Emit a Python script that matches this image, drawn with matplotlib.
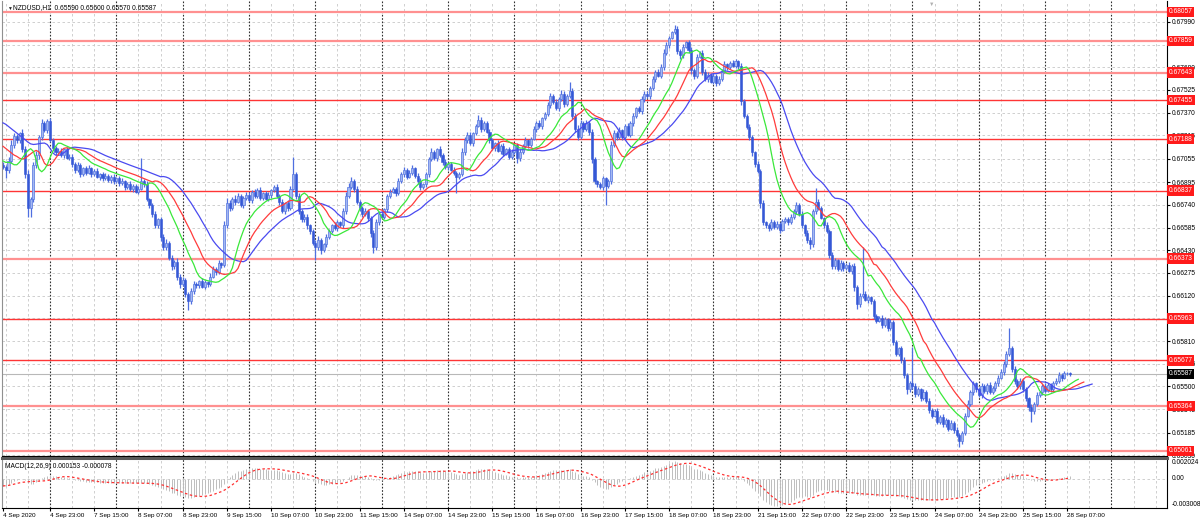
"""
NZDUSD H1 chart (MT4 look): candles, Alligator, S/R levels, MACD panel.
Prices are stored in points above 0.65000 (1 point = 0.00001).
"""
import matplotlib.pyplot as plt
import numpy as np
import pandas as pd
from matplotlib.transforms import blended_transform_factory
from matplotlib.lines import Line2D

plt.rcParams['font.family'] = ['Liberation Sans', 'DejaVu Sans']

# ── Data ──────────────────────────────────────────────────────────────────────
BASE = 0.65
first_open = 2010
close_pts = [
    2000, 1980, 2040, 2150, 2210, 2180, 2230, 2120, 1950, 1720, 1780, 2010, 2080, 2200, 2300, 2250, 2310, 2180, 2130, 2100,
    2110, 2080, 2120, 2060, 2070, 2020, 1980, 2010, 1950, 1990, 1960, 1990, 1950, 1970, 1930, 1950, 1920, 1940, 1910, 1930,
    1900, 1920, 1890, 1900, 1860, 1880, 1850, 1870, 1830, 1850, 1900, 1880, 1780, 1740, 1680, 1600, 1640, 1520, 1450, 1480,
    1380, 1320, 1350, 1250, 1200, 1230, 1130, 1080, 1150, 1200, 1190, 1220, 1180, 1210, 1200, 1250, 1300, 1280, 1340, 1330,
    1600, 1750, 1720, 1780, 1760, 1800, 1740, 1790, 1810, 1770, 1830, 1800, 1840, 1790, 1820, 1780, 1810, 1840, 1860, 1800,
    1760, 1700, 1750, 1720, 1850, 1950, 1800, 1700, 1640, 1660, 1600, 1560, 1480, 1450, 1500, 1430, 1470, 1520, 1560, 1600,
    1580, 1620, 1600, 1700, 1800, 1860, 1900, 1850, 1760, 1720, 1680, 1700, 1650, 1550, 1450, 1620, 1680, 1660, 1710, 1800,
    1830, 1850, 1820, 1900, 1950, 1980, 1930, 1960, 1990, 1940, 1900, 1860, 1880, 1950, 2050, 2100, 2060, 2120, 2080, 2030,
    2000, 2020, 1980, 1960, 1930, 1950, 2100, 2180, 2220, 2160, 2230, 2280, 2320, 2260, 2300, 2240, 2180, 2130, 2160, 2110,
    2140, 2090, 2120, 2070, 2100, 2150, 2060, 2100, 2140, 2180, 2150, 2190, 2260, 2300, 2280, 2330, 2360, 2420, 2480, 2440,
    2400, 2460, 2500, 2430, 2480, 2520, 2350, 2260, 2200, 2300, 2260, 2300, 2240, 2050, 1900, 1880, 1860, 1920, 1870, 1900,
    2150, 2230, 2200, 2250, 2200, 2280, 2220, 2300, 2350, 2400, 2380, 2460, 2500, 2480, 2540, 2600, 2650, 2620, 2680, 2780,
    2830, 2880, 2920, 2940, 2790, 2760, 2820, 2850, 2800, 2660, 2620, 2750, 2780, 2650, 2600, 2630, 2580, 2620, 2570, 2600,
    2650, 2700, 2680, 2710, 2690, 2720, 2690, 2450, 2350, 2270, 2200, 2100, 2020, 1970, 1750, 1620, 1600, 1580, 1620, 1590,
    1610, 1570, 1630, 1640, 1620, 1660, 1700, 1740, 1680, 1600, 1550, 1500, 1470, 1700, 1760, 1720, 1650, 1600, 1560, 1400,
    1320, 1360, 1300, 1340, 1310, 1330, 1290, 1320, 1180, 1060, 1120, 1130, 1090, 1110, 1080, 980, 950, 970, 920, 960,
    900, 940, 800, 720, 760, 680, 580, 480, 520, 500, 450, 480, 420, 460, 400, 340, 300, 330, 260, 290,
    240, 270, 210, 250, 200, 170, 130, 180, 300, 380, 460, 520, 480, 440, 500, 470, 510, 460, 490, 520,
    560, 600, 650, 720, 760, 620, 540, 500, 540, 480, 420, 360, 330, 380, 440, 460, 500, 470, 510, 480,
    520, 540, 580, 560, 590, 590, 587,
]
upper_wick = [
    20, 15, 25, 30, 20, 15, 10, 25, 20, 30, 15, 20, 25, 20, 26, 15, 16, 20, 15, 10,
    15, 20, 10, 15, 20, 15, 10, 20, 15, 10, 15, 20, 10, 15, 20, 10, 15, 20, 10, 15,
    20, 10, 15, 20, 10, 15, 20, 10, 15, 20, 160, 15, 20, 10, 15, 20, 10, 15, 20, 25,
    15, 20, 10, 25, 15, 20, 10, 15, 25, 20, 15, 10, 20, 15, 10, 25, 20, 15, 20, 10,
    30, 40, 20, 15, 25, 20, 15, 10, 20, 15, 10, 20, 15, 20, 10, 15, 20, 10, 15, 20,
    15, 20, 10, 25, 20, 117, 15, 20, 10, 15, 20, 10, 15, 20, 25, 15, 10, 20, 15, 10,
    20, 15, 10, 20, 25, 30, 30, 15, 20, 10, 15, 20, 10, 15, 20, 25, 15, 20, 10, 15,
    20, 15, 10, 20, 15, 20, 10, 15, 20, 10, 15, 20, 10, 15, 20, 25, 15, 10, 20, 15,
    20, 10, 15, 20, 10, 15, 25, 20, 15, 20, 10, 15, 33, 20, 15, 10, 20, 15, 10, 20,
    15, 20, 10, 15, 20, 15, 10, 20, 15, 20, 10, 15, 20, 15, 20, 10, 15, 20, 25, 15,
    20, 15, 25, 20, 15, 59, 20, 15, 25, 20, 15, 20, 10, 15, 20, 10, 15, 20, 10, 15,
    25, 20, 15, 20, 10, 15, 20, 15, 20, 10, 15, 20, 15, 20, 15, 20, 10, 15, 20, 25,
    20, 15, 10, 28, 20, 15, 20, 10, 15, 20, 15, 20, 10, 15, 20, 15, 10, 20, 15, 20,
    15, 20, 10, 15, 20, 15, 10, 20, 15, 10, 20, 15, 10, 20, 15, 20, 10, 15, 20, 15,
    20, 15, 10, 15, 20, 15, 10, 20, 15, 20, 10, 15, 20, 15, 95, 20, 15, 10, 20, 15,
    20, 15, 10, 20, 15, 10, 20, 15, 20, 10, 15, 322, 20, 15, 10, 20, 15, 10, 20, 15,
    10, 20, 15, 20, 10, 15, 20, 10, 15, 249, 20, 15, 10, 20, 15, 20, 10, 15, 20, 15,
    20, 15, 10, 20, 15, 20, 10, 15, 20, 25, 15, 20, 10, 15, 20, 15, 10, 20, 15, 20,
    15, 20, 25, 20, 139, 15, 20, 10, 15, 20, 15, 10, 20, 15, 20, 10, 15, 20, 15, 10,
    20, 15, 20, 10, 15, 10, 10,
]
lower_wick = [
    15, 60, 20, 15, 25, 20, 15, 20, 25, 63, 63, 20, 15, 25, 20, 15, 20, 10, 15, 20,
    10, 15, 20, 10, 15, 20, 25, 15, 20, 10, 15, 10, 20, 15, 10, 20, 15, 10, 15, 20,
    15, 10, 20, 15, 20, 10, 15, 20, 10, 15, 10, 20, 15, 20, 25, 15, 20, 25, 20, 15,
    20, 25, 15, 20, 25, 15, 20, 58, 15, 20, 15, 20, 10, 15, 20, 15, 10, 20, 15, 20,
    15, 20, 25, 15, 20, 10, 15, 20, 15, 10, 20, 15, 10, 15, 20, 10, 15, 20, 10, 15,
    20, 15, 25, 20, 15, 10, 20, 25, 15, 20, 25, 20, 15, 87, 20, 25, 15, 20, 10, 15,
    15, 20, 10, 15, 20, 10, 15, 20, 15, 20, 25, 15, 20, 30, 40, 15, 20, 10, 15, 20,
    15, 10, 20, 15, 10, 20, 15, 10, 15, 20, 15, 20, 10, 15, 20, 10, 15, 20, 10, 15,
    15, 20, 10, 15, 110, 15, 10, 20, 15, 10, 20, 15, 10, 20, 15, 10, 20, 15, 20, 10,
    20, 15, 10, 20, 15, 10, 34, 20, 15, 10, 20, 15, 10, 20, 15, 20, 10, 15, 20, 10,
    15, 20, 10, 20, 15, 10, 25, 20, 15, 10, 20, 15, 20, 25, 20, 15, 10, 20, 131, 15,
    20, 15, 20, 10, 15, 20, 10, 15, 20, 15, 10, 20, 15, 10, 20, 15, 20, 10, 15, 20,
    15, 20, 10, 15, 20, 25, 15, 10, 20, 25, 20, 15, 10, 20, 15, 20, 10, 15, 20, 10,
    15, 10, 20, 15, 10, 15, 20, 25, 20, 15, 20, 25, 20, 15, 30, 20, 15, 20, 10, 15,
    15, 20, 10, 15, 20, 10, 15, 20, 15, 20, 25, 20, 30, 15, 20, 15, 10, 20, 15, 20,
    15, 20, 15, 10, 20, 15, 10, 20, 25, 30, 20, 15, 10, 20, 15, 20, 15, 10, 20, 15,
    20, 15, 20, 15, 10, 20, 25, 30, 20, 15, 20, 15, 20, 10, 15, 20, 15, 10, 20, 15,
    15, 20, 15, 10, 20, 15, 44, 20, 15, 10, 15, 20, 15, 10, 20, 15, 20, 10, 15, 20,
    15, 10, 20, 15, 10, 20, 25, 15, 20, 15, 20, 25, 73, 20, 15, 10, 20, 15, 10, 20,
    15, 10, 15, 20, 10, 15, 17,
]

# Alligator lines where they enter the chart on the left
jaw_lead = [2300, 2290, 2275, 2260, 2245, 2230, 2215, 2200]
teeth_lead = [2140, 2125, 2110, 2095, 2080]
lips_lead = [2040, 2030, 2030]
macd_start = -0.0008

levels = [0.68057, 0.67859, 0.67643, 0.67455, 0.67188, 0.66837,
          0.66373, 0.65963, 0.65677, 0.65364, 0.65061]
levels_light = [True, True, True, False, False, False,
                True, False, False, True, True]
last_price = 0.65587

price_ticks = [0.67990, 0.67835, 0.67680, 0.67525, 0.67370, 0.67215, 0.67055,
               0.66895, 0.66740, 0.66585, 0.66430, 0.66275, 0.66120, 0.65965,
               0.65810, 0.65655, 0.65500, 0.65345, 0.65185, 0.65030]
# tick labels fully covered by a level label in the reference
covered_ticks = [0.67835, 0.65965]

date_labels = ["4 Sep 2020", "4 Sep 23:00", "7 Sep 15:00", "8 Sep 07:00", "8 Sep 23:00",
               "9 Sep 15:00", "10 Sep 07:00", "10 Sep 23:00", "11 Sep 15:00",
               "14 Sep 07:00", "14 Sep 23:00", "15 Sep 15:00", "16 Sep 07:00",
               "16 Sep 23:00", "17 Sep 15:00", "18 Sep 07:00", "18 Sep 23:00",
               "21 Sep 15:00", "22 Sep 07:00", "22 Sep 23:00", "23 Sep 15:00",
               "24 Sep 07:00", "24 Sep 23:00", "25 Sep 15:00", "28 Sep 07:00"]
date_idx = [0] + [17 + 16 * k for k in range(24)]

# ── Derived series ────────────────────────────────────────────────────────────
close = BASE + np.array(close_pts) / 1e5
opn = BASE + np.array([first_open] + close_pts[:-1]) / 1e5
high = np.maximum(opn, close) + np.array(upper_wick) / 1e5
low = np.minimum(opn, close) - np.array(lower_wick) / 1e5
n = len(close)
idx = np.arange(n)
median = (high + low) / 2


def smma(values, period, seed):
    out, prev = [], seed
    for v in values:
        prev = (prev * (period - 1) + v) / period
        out.append(prev)
    return np.array(out)


def alligator(lead, period, shift):
    lead = BASE + np.array(lead) / 1e5
    vals = np.r_[lead, smma(median, period, lead[-1])]
    xs = np.r_[np.arange(len(lead)), idx + shift]
    return xs, vals


def ema(values, period, seed):
    a = 2 / (period + 1)
    out, prev = [], seed
    for v in values:
        prev = a * v + (1 - a) * prev
        out.append(prev)
    return np.array(out)


macd = ema(close, 12, close[0]) - ema(close, 26, close[0] - macd_start)
signal = pd.Series(macd).rolling(9, min_periods=1).mean().values

# ── Figure ────────────────────────────────────────────────────────────────────
W, H = 1200, 523
fig = plt.figure(figsize=(W / 100, H / 100), dpi=100)
ax = fig.add_axes([2 / W, 1 - 456 / H, 1165 / W, 455 / H])
axm = fig.add_axes([2 / W, 1 - 508 / H, 1165 / W, 49 / H])

xlim = (-0.36, 421.1)
for a in (ax, axm):
    a.set_xlim(*xlim)
    for s in a.spines.values():
        s.set_color("#000000")
        s.set_linewidth(0.8)
    a.spines["top"].set_visible(False)
    a.spines["left"].set_color("#909090")
    # grid every 8 bars, daily separators every 24
    for g in range(1, 60):
        gx = 17 + 8 * (g - 3)
        if gx < xlim[0] or gx > xlim[1]:
            continue
        if (g - 3) % 3 == 0:
            a.axvline(gx, color="#303030", lw=0.8, ls=(0, (1.5, 1.5)), zorder=0.6)
        else:
            a.axvline(gx, color="#c8c8c8", lw=0.6, ls=(0, (3, 3)), zorder=0.5)

ax.set_ylim(0.650248, 0.681321)

for t in price_ticks:
    ax.axhline(t, color="#c8c8c8", lw=0.6, ls=(0, (3, 3)), zorder=0.5)

for lv, light in zip(levels, levels_light):
    if light:
        ax.axhline(lv, color="#ff9090", lw=1.6, zorder=1)
    else:
        ax.axhline(lv, color="#ff3535", lw=1.0, zorder=1)
ax.axhline(last_price, color="#b8b8b8", lw=0.8, zorder=1)

# candles
bull = close >= opn
ax.vlines(idx, low, high, color="#4f6fe0", lw=0.9, zorder=2)
body_h = np.maximum(np.abs(close - opn), 0.00002)
body_b = np.minimum(opn, close)
ax.bar(idx[bull], body_h[bull], bottom=body_b[bull], width=0.75,
       color="#a4b8f2", edgecolor="#5676e0", linewidth=0.5, zorder=2.2)
ax.bar(idx[~bull], body_h[~bull], bottom=body_b[~bull], width=0.75,
       color="#3558d6", edgecolor="#3558d6", linewidth=0.4, zorder=2.2)

# alligator
for lead, period, shift, col in [(jaw_lead, 13, 8, "#4a4af0"),
                                 (teeth_lead, 8, 5, "#ff3c3c"),
                                 (lips_lead, 5, 3, "#3ae83a")]:
    xs, vals = alligator(lead, period, shift)
    ax.plot(xs, vals, color=col, lw=0.9, zorder=3)

# right price scale
ax.yaxis.tick_right()
ax.set_yticks(price_ticks)
ax.set_yticklabels(["" if t in covered_ticks else f"{t:.5f}" for t in price_ticks])
ax.tick_params(axis="y", labelsize=4.8, length=2, pad=1.5, colors="#000000")
ax.set_xticks([])

tr = blended_transform_factory(ax.transAxes, ax.transData)
for lv in levels:
    ax.text(1.0015, lv, f"{lv:.5f}", transform=tr, fontsize=4.8, color="white",
            va="center", ha="left", clip_on=False, zorder=5,
            bbox=dict(boxstyle="square,pad=0.25", fc="#ff1a1a", ec="none"))
ax.text(1.0015, last_price, f"{last_price:.5f}", transform=tr, fontsize=4.8,
        color="white", va="center", ha="left", clip_on=False, zorder=5,
        bbox=dict(boxstyle="square,pad=0.25", fc="#000000", ec="none"))

# MACD panel
axm.set_ylim(-0.003008, 0.002024)
axm.axhline(0, color="#c8c8c8", lw=0.6, ls=(0, (3, 3)), zorder=0.5)
axm.vlines(idx, 0, macd, color="#bdbdbd", lw=0.7, zorder=2)
axm.plot(idx, signal, color="#ff3030", lw=0.9, ls=(0, (2, 2)), zorder=3)
axm.set_yticks([])
axm.set_xticks(date_idx)
axm.set_xticklabels(date_labels)
axm.tick_params(axis="x", labelsize=4.6, length=2, pad=1.5)
for lab in axm.get_xticklabels():
    lab.set_ha("left")
trm = blended_transform_factory(axm.transAxes, axm.transData)
axm.text(1.004, 0.002024, "0.002024", transform=trm, fontsize=4.8, va="top")
axm.text(1.004, 0.0, "0.00", transform=trm, fontsize=4.8, va="center")
axm.text(1.004, -0.003008, "-0.003008", transform=trm, fontsize=4.8, va="bottom")

fig.text(5 / W, 1 - 466 / H, "MACD(12,26,9) 0.000153 -0.000078", fontsize=4.8, va="center")

# panel separator and headings
fig.add_artist(Line2D([2 / W, 1167 / W], [1 - 457.5 / H] * 2, color="#5a5a5a", lw=2.2))
fig.text(7 / W, 1 - 8 / H, "\u25bc", fontsize=3.5, va="center", color="#202020")
fig.text(13 / W, 1 - 8 / H, "NZDUSD,H1  0.65590 0.65600 0.65570 0.65587",
         fontsize=4.8, va="center")
fig.text(932 / W, 1 - 4 / H, "\u25bc", fontsize=4, va="center", ha="center", color="#b0b0b0")

fig.savefig("out.png", dpi=100, facecolor="white")
